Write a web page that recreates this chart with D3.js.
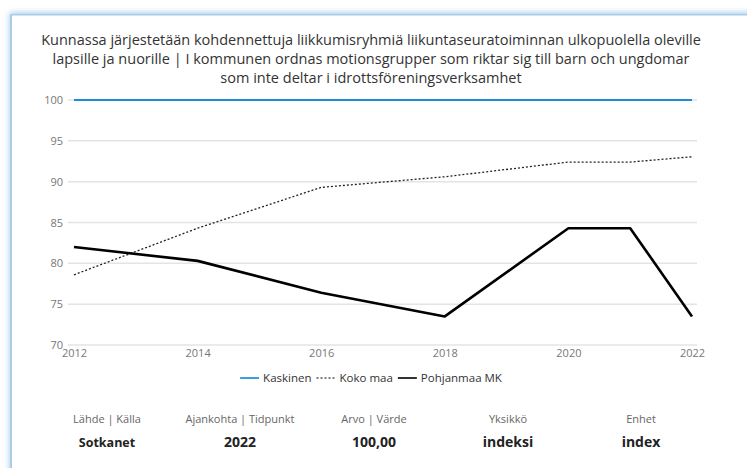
<!DOCTYPE html>
<html lang="fi">
<head>
<meta charset="UTF-8">
<title>Kunnassa järjestetään kohdennettuja liikkumisryhmiä</title>
<script src="https://cdn.jsdelivr.net/npm/d3@7"></script>
<style>
    body { margin: 0; background: #fff; font-family: "Open Sans", "Noto Sans", sans-serif; }
    #chart { position: absolute; left: 0; top: 0; }
</style>
</head>
<body>
<svg id="chart" width="747" height="468"></svg>
<script>
// data
var years = [2012, 2014, 2016, 2018, 2020, 2021, 2022];
var kaskinen = [100, 100, 100, 100, 100, 100, 100];
var kokoMaa = [78.6, 84.3, 89.3, 90.6, 92.4, 92.4, 93.05];
var pohjanmaa = [82.0, 80.3, 76.4, 73.5, 84.3, 84.3, 73.5];
var yTicks = [70, 75, 80, 85, 90, 95, 100];
var xTicks = [2012, 2014, 2016, 2018, 2020, 2022];
var titleLines = [
    "Kunnassa järjestetään kohdennettuja liikkumisryhmiä liikuntaseuratoiminnan ulkopuolella oleville",
    "lapsille ja nuorille | I kommunen ordnas motionsgrupper som riktar sig till barn och ungdomar",
    "som inte deltar i idrottsföreningsverksamhet"
];
var seriesNames = ["Kaskinen", "Koko maa", "Pohjanmaa MK"];
var footLabels = ["Lähde | Källa", "Ajankohta | Tidpunkt", "Arvo | Värde", "Yksikkö", "Enhet"];
var footValues = ["Sotkanet", "2022", "100,00", "indeksi", "index"];

var svg = d3.select("#chart");

// card with shadow
var defs = svg.append("defs");
var f = defs.append("filter").attr("id", "sh").attr("x", "-5%").attr("y", "-5%").attr("width", "110%").attr("height", "110%");
f.append("feDropShadow").attr("dx", -1).attr("dy", -1).attr("stdDeviation", 3)
    .attr("flood-color", "#5a9fd0").attr("flood-opacity", 0.6);
svg.append("rect").attr("x", 11).attr("y", 14).attr("width", 760).attr("height", 480)
    .attr("fill", "#fff").attr("filter", "url(#sh)");
svg.append("rect").attr("x", 10).attr("y", 14).attr("width", 2).attr("height", 470).attr("fill", "#a9cde8");
svg.append("rect").attr("x", 10).attr("y", 14).attr("width", 760).attr("height", 1.5).attr("fill", "#a9cde8");

// title
svg.append("g").selectAll("text").data(titleLines).enter().append("text")
    .attr("x", 371).attr("y", function (d, i) { return 45 + i * 19; })
    .attr("text-anchor", "middle").attr("font-size", 14.5).attr("fill", "#333")
    .text(function (d) { return d; });

var x = d3.scaleLinear().domain([2012, 2022]).range([74, 692]);
var y = d3.scaleLinear().domain([70, 100]).range([345, 100]);

// grid
svg.append("g").selectAll("line").data(yTicks).enter().append("line")
    .attr("x1", 68).attr("x2", 697)
    .attr("y1", function (d) { return y(d); }).attr("y2", function (d) { return y(d); })
    .attr("stroke", "#e4e4e4").attr("stroke-width", 1.5);

var yAxis = svg.append("g").attr("transform", "translate(63,0)")
    .call(d3.axisLeft(y).tickValues(yTicks).tickSize(0).tickPadding(0));
yAxis.select(".domain").remove();
yAxis.selectAll("text").attr("fill", "#777").attr("font-size", 11).attr("font-family", "Open Sans");

var xAxis = svg.append("g").attr("transform", "translate(0,348)")
    .call(d3.axisBottom(x).tickValues(xTicks).tickFormat(d3.format("d")).tickSize(0).tickPadding(1));
xAxis.select(".domain").remove();
xAxis.selectAll("text").attr("fill", "#777").attr("font-size", 11).attr("font-family", "Open Sans");

var line = d3.line()
    .x(function (d, i) { return x(years[i]); })
    .y(function (d) { return y(d); });

svg.append("path").datum(kaskinen).attr("d", line).attr("fill", "none")
    .attr("stroke", "#1f8dd6").attr("stroke-width", 2);
svg.append("path").datum(kokoMaa).attr("d", line).attr("fill", "none")
    .attr("stroke", "#222").attr("stroke-width", 1.3).attr("stroke-dasharray", "2,2");
svg.append("path").datum(pohjanmaa).attr("d", line).attr("fill", "none")
    .attr("stroke", "#000").attr("stroke-width", 2.6).attr("stroke-linejoin", "round");

// legend, laid out by measured text width and centred
var legStyles = [
    {c: "#39a0e0", w: 2, dash: null},
    {c: "#555", w: 1.3, dash: "2,2"},
    {c: "#333", w: 2, dash: null}
];
var leg = svg.append("g");
var cx = 0;
seriesNames.forEach(function (name, i) {
    leg.append("line").attr("x1", cx).attr("x2", cx + 19).attr("y1", 378).attr("y2", 378)
        .attr("stroke", legStyles[i].c).attr("stroke-width", legStyles[i].w)
        .attr("stroke-dasharray", legStyles[i].dash);
    var t = leg.append("text").attr("x", cx + 23).attr("y", 382).attr("font-size", 11.5).attr("fill", "#333")
        .text(name);
    cx += 23 + t.node().getComputedTextLength() + 5;
});
leg.attr("transform", "translate(" + (371 - (cx - 5) / 2) + ",0)");

// footer
var footX = [107, 240, 374, 508, 641];
svg.append("g").selectAll("text").data(footLabels).enter().append("text")
    .attr("x", function (d, i) { return footX[i]; }).attr("y", 423)
    .attr("text-anchor", "middle").attr("font-size", 11).attr("fill", "#666")
    .text(function (d) { return d; });
svg.append("g").selectAll("text").data(footValues).enter().append("text")
    .attr("x", function (d, i) { return footX[i]; }).attr("y", 447)
    .attr("text-anchor", "middle").attr("font-weight", "bold")
    .attr("font-size", function (d, i) { return i == 0 ? 12.5 : 14; }).attr("fill", "#222")
    .text(function (d) { return d; });
</script>
</body>
</html>
